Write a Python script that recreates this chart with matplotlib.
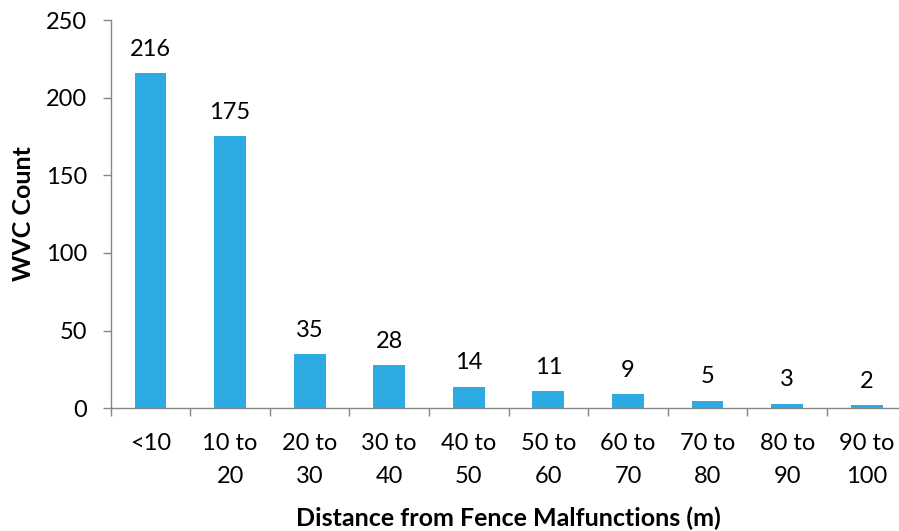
import matplotlib
matplotlib.use("Agg")
import matplotlib.pyplot as plt
import numpy as np

categories = ["<10", "10 to\n20", "20 to\n30", "30 to\n40", "40 to\n50",
              "50 to\n60", "60 to\n70", "70 to\n80", "80 to\n90", "90 to\n100"]
counts = [216, 175, 35, 28, 14, 11, 9, 5, 3, 2]
y_ticks = [0, 50, 100, 150, 200, 250]

plt.rcParams['font.family'] = ['Lato', 'DejaVu Sans']

W, H = 899, 531
X0, X1, Y0, Y1 = 110.7, 906.5, 408.3, 20.0
fig = plt.figure(figsize=(W / 100, H / 100), dpi=100)
ax = fig.add_axes([X0 / W, 1 - Y0 / H, (X1 - X0) / W, (Y0 - Y1) / H])

bar_color = "#2EAAE2"
spine_color = "#868686"
fs = 17
x = np.arange(len(categories))
ax.bar(x, counts, width=0.4, color=bar_color, zorder=2)

for xi, v in zip(x, counts):
    ax.annotate(str(v), (xi, v), xytext=(0, 9.5), textcoords="offset points",
                ha="center", va="bottom", fontsize=fs, color="black")

ax.set_xlim(-0.5, len(categories) - 0.5)
ax.set_ylim(0, 250)
ax.set_yticks(y_ticks)
ax.set_yticklabels([str(t) for t in y_ticks], fontsize=fs)

ax.set_xticks(x)
ax.set_xticklabels(categories, fontsize=fs, linespacing=1.7)
ax.set_xticks(np.arange(len(categories) + 1) - 0.5, minor=True)
ax.tick_params(axis="x", which="major", length=0, pad=18)
ax.tick_params(axis="x", which="minor", length=5.8, width=1, color=spine_color, direction="out")
ax.tick_params(axis="y", length=5.8, width=1, color=spine_color, direction="out", pad=11)

for side in ["top", "right"]:
    ax.spines[side].set_visible(False)
for side in ["left", "bottom"]:
    ax.spines[side].set_color(spine_color)
    ax.spines[side].set_linewidth(1)

ax.set_ylabel("WVC Count", fontsize=18, fontweight="bold")
ax.set_xlabel("Distance from Fence Malfunctions (m)", fontsize=18, fontweight="bold")
ax.xaxis.set_label_coords(0.5, -(518 - Y0) / (Y0 - Y1))
ax.xaxis.label.set_va("center")
ax.yaxis.set_label_coords(-(X0 - 24) / (X1 - X0), (Y0 - 214) / (Y0 - Y1))
ax.yaxis.label.set_va("center")

fig.savefig("out.png", dpi=100)
